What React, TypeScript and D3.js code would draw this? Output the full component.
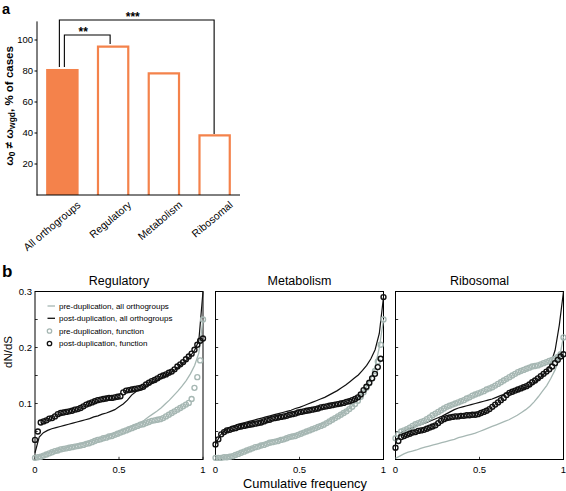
import React from "react";
import * as d3 from "d3";

// ---------- Panel a data ----------
const categories = ["All orthogroups", "Regulatory", "Metabolism", "Ribosomal"];
const pctCases = [81.3, 95.7, 78.5, 38.5];
const pctTicks = [20, 40, 60, 80, 100];
const sigLabels = [
  { from: 0, to: 1, label: "**", level: 103.2 },
  { from: 0, to: 3, label: "***", level: 112.9 },
];

// ---------- Panel b data (sorted dN/dS values; cumulative frequency from rank) ----------
const panelTitles = ["Regulatory", "Metabolism", "Ribosomal"];
const dndsTicks = [0.05, 0.1, 0.15, 0.2, 0.25, 0.3];
const dndsLabelTicks = [0.1, 0.2, 0.3];
const freqTicks = [0, 0.5, 1];
const freqTickLabels = ["0", "0.5", "1"];
const legendLabels = [
  "pre-duplication, all orthogroups",
  "post-duplication, all orthogroups",
  "pre-duplication, function",
  "post-duplication, function",
];

const regPreAll = [0.003,0.006,0.009,0.012,0.014,0.016,0.018,0.02,0.022,0.024,
  0.026,0.028,0.03,0.032,0.034,0.036,0.039,0.041,0.044,0.047,
  0.05,0.053,0.056,0.059,0.062,0.066,0.07,0.076,0.081,0.086,
  0.092,0.099,0.106,0.114,0.122,0.131,0.141,0.153,0.168,0.19,
  0.25];
const regPostAll = [0.012,0.04,0.048,0.052,0.055,0.057,0.059,0.061,0.063,0.065,
  0.067,0.069,0.071,0.073,0.076,0.078,0.081,0.083,0.086,0.089,
  0.094,0.099,0.106,0.115,0.121,0.125,0.129,0.133,0.137,0.141,
  0.145,0.149,0.153,0.158,0.164,0.17,0.177,0.185,0.195,0.212,
  0.3];
const regPreFn = [0.003,0.004,0.005,0.007,0.009,0.011,0.013,0.015,0.016,0.018,
  0.019,0.02,0.021,0.022,0.023,0.024,0.025,0.026,0.028,0.029,
  0.031,0.033,0.035,0.036,0.038,0.039,0.041,0.042,0.044,0.046,
  0.048,0.05,0.052,0.054,0.056,0.058,0.06,0.062,0.063,0.065,
  0.067,0.069,0.07,0.071,0.072,0.074,0.077,0.08,0.083,0.086,
  0.089,0.092,0.095,0.098,0.101,0.108,0.128,0.147,0.177,0.25];
const regPostFn = [0.035,0.05,0.066,0.068,0.07,0.073,0.074,0.077,0.081,0.083,
  0.084,0.085,0.086,0.087,0.089,0.09,0.092,0.095,0.098,0.1,
  0.102,0.104,0.106,0.107,0.108,0.109,0.11,0.11,0.111,0.112,
  0.113,0.12,0.123,0.124,0.125,0.126,0.127,0.128,0.13,0.134,
  0.137,0.14,0.142,0.145,0.148,0.15,0.152,0.155,0.157,0.161,
  0.166,0.17,0.174,0.179,0.184,0.189,0.196,0.205,0.212,0.216];

const metPreAll = [0.003,0.003,0.004,0.005,0.007,0.01,0.013,0.016,0.019,0.022,
  0.025,0.027,0.03,0.032,0.034,0.036,0.038,0.04,0.042,0.044,
  0.046,0.049,0.052,0.055,0.058,0.062,0.066,0.07,0.074,0.078,
  0.082,0.087,0.092,0.099,0.107,0.118,0.13,0.145,0.165,0.2,
  0.25];
const metPostAll = [0.027,0.042,0.051,0.056,0.059,0.062,0.064,0.066,0.068,0.07,
  0.072,0.074,0.076,0.078,0.08,0.082,0.084,0.086,0.088,0.091,
  0.093,0.096,0.099,0.102,0.105,0.108,0.111,0.115,0.119,0.123,
  0.128,0.133,0.139,0.145,0.151,0.159,0.168,0.18,0.196,0.225,
  0.29];
const metPreFn = [0.003,0.003,0.003,0.004,0.004,0.005,0.006,0.008,0.01,0.012,
  0.014,0.016,0.018,0.02,0.022,0.023,0.025,0.026,0.028,0.03,
  0.031,0.032,0.033,0.035,0.036,0.038,0.04,0.041,0.042,0.044,
  0.046,0.048,0.05,0.052,0.054,0.056,0.058,0.06,0.062,0.065,
  0.068,0.071,0.074,0.077,0.08,0.083,0.086,0.09,0.094,0.099,
  0.105,0.112,0.12,0.128,0.136,0.145,0.158,0.175,0.205,0.25];
const metPostFn = [0.027,0.036,0.045,0.049,0.052,0.053,0.055,0.056,0.058,0.059,
  0.06,0.061,0.062,0.063,0.064,0.065,0.066,0.068,0.07,0.071,
  0.073,0.074,0.075,0.076,0.077,0.078,0.08,0.081,0.082,0.084,
  0.085,0.086,0.087,0.088,0.089,0.09,0.091,0.093,0.094,0.095,
  0.096,0.097,0.098,0.099,0.1,0.101,0.103,0.104,0.106,0.108,
  0.111,0.116,0.124,0.13,0.137,0.145,0.153,0.165,0.18,0.29];

const riboPreAll = [0.002,0.006,0.01,0.013,0.015,0.017,0.02,0.022,0.024,0.026,
  0.028,0.03,0.032,0.034,0.036,0.039,0.041,0.043,0.045,0.047,
  0.05,0.053,0.056,0.059,0.062,0.065,0.068,0.071,0.075,0.079,
  0.084,0.089,0.095,0.103,0.112,0.122,0.132,0.145,0.16,0.18,
  0.22];
const riboPostAll = [0.03,0.046,0.051,0.054,0.057,0.06,0.062,0.065,0.068,0.071,
  0.074,0.077,0.081,0.085,0.089,0.092,0.094,0.096,0.098,0.1,
  0.102,0.104,0.106,0.108,0.111,0.114,0.117,0.12,0.122,0.125,
  0.127,0.129,0.131,0.136,0.142,0.15,0.158,0.172,0.195,0.24,
  0.3];
const riboPreFn = [0.038,0.045,0.05,0.052,0.054,0.057,0.06,0.063,0.065,0.067,
  0.069,0.072,0.075,0.079,0.082,0.085,0.088,0.091,0.094,0.096,
  0.098,0.1,0.102,0.104,0.106,0.109,0.111,0.114,0.116,0.118,
  0.12,0.122,0.125,0.127,0.129,0.132,0.135,0.138,0.141,0.144,
  0.147,0.15,0.153,0.156,0.158,0.16,0.162,0.164,0.166,0.167,
  0.168,0.17,0.172,0.174,0.176,0.178,0.18,0.183,0.188,0.218];
const riboPostFn = [0.021,0.033,0.04,0.042,0.044,0.046,0.048,0.049,0.051,0.052,
  0.053,0.055,0.057,0.059,0.061,0.065,0.069,0.072,0.074,0.075,
  0.076,0.077,0.077,0.078,0.078,0.079,0.079,0.08,0.08,0.081,
  0.083,0.085,0.087,0.09,0.094,0.098,0.102,0.106,0.11,0.115,
  0.119,0.121,0.123,0.125,0.127,0.129,0.131,0.134,0.138,0.141,
  0.145,0.149,0.153,0.157,0.161,0.166,0.172,0.178,0.184,0.188];

const panelData = [
  { preAll: regPreAll, postAll: regPostAll, preFn: regPreFn, postFn: regPostFn },
  { preAll: metPreAll, postAll: metPostAll, preFn: metPreFn, postFn: metPostFn },
  { preAll: riboPreAll, postAll: riboPostAll, preFn: riboPreFn, postFn: riboPostFn },
];

// ---------- styles ----------
const FONT = "'Liberation Sans', Arial, Helvetica, sans-serif";
const ORANGE = "#F4824B";
const GREY = "#a6b7b3";
const BLACK = "#111";

const W = 566;
const H = 491;

function PanelA() {
  const x = d3.scaleBand<string>().domain(categories).range([37, 240]).paddingInner(0.36).paddingOuter(0.18);
  const y = d3.scaleLinear().domain([0, 112]).range([195, 21.4]);
  const cx = (i: number) => (x(categories[i]) as number) + x.bandwidth() / 2;
  return (
    <g>
      <text x={2} y={13.5} fontFamily={FONT} fontWeight="bold" fontSize={14.5}>a</text>
      {categories.map((c, i) => {
        const x0 = x(c) as number;
        if (i === 0) {
          return (
            <rect key={c} x={x0} y={y(pctCases[i])} width={x.bandwidth()}
              height={y(0) - y(pctCases[i])} fill={ORANGE} />
          );
        }
        const xl = x0 + 1.1;
        const xr = x0 + x.bandwidth() - 1.1;
        return (
          <g key={c}>
            <rect x={xl} y={y(pctCases[i])} width={xr - xl} height={y(0) - y(pctCases[i])} fill="#fff" />
            <path d={`M${xl},${y(0)}V${y(pctCases[i])}H${xr}V${y(0)}`} fill="none"
              stroke={ORANGE} strokeWidth={2.2} />
          </g>
        );
      })}
      {/* axes */}
      <line x1={37} x2={37} y1={y(112)} y2={y(0) + 0.5} stroke="#000" strokeWidth={1} />
      <line x1={36.5} x2={240} y1={y(0)} y2={y(0)} stroke="#000" strokeWidth={1} />
      {pctTicks.map(t => (
        <g key={t}>
          <line x1={34.5} x2={37} y1={y(t)} y2={y(t)} stroke="#000" strokeWidth={1} />
          <text x={33} y={y(t) + 3.3} textAnchor="end" fontFamily={FONT} fontSize={9.5}>{t}</text>
        </g>
      ))}
      <text transform={`translate(13,106) rotate(-90)`} textAnchor="middle" fontFamily={FONT} fontWeight="bold" fontSize={11.5}>
        ω<tspan fontSize={8.5} dy={2}>0</tspan><tspan dy={-2}> ≠ ω</tspan><tspan fontSize={8.5} dy={2}>wgd</tspan><tspan dy={-2}>, % of cases</tspan>
      </text>
      {categories.map((c, i) => (
        <text key={c} transform={`translate(${cx(i) + 19},${206}) rotate(-40)`} textAnchor="end" fontFamily={FONT} fontSize={10.5}>{c}</text>
      ))}
      {/* significance brackets */}
      {sigLabels.map((s, k) => {
        const xl = cx(s.from) + (k === 0 ? 2 : -3);
        const xr = cx(s.to) + (k === 0 ? -3 : -0.5);
        const ly = y(s.level);
        const yl = y(pctCases[s.from]) - 2;
        const yr = y(pctCases[s.to]) - (k === 0 ? 2.7 : 1.3);
        return (
          <g key={s.label}>
            <path d={`M${xl},${yl}V${ly}H${xr}V${yr}`} fill="none" stroke="#000" strokeWidth={1.1} />
            <text x={(xl + xr) / 2 - 4} y={ly + 1} textAnchor="middle" fontFamily={FONT} fontWeight="bold" fontSize={12}>{s.label}</text>
          </g>
        );
      })}
    </g>
  );
}

function PanelB() {
  const lefts = [35, 215.5, 395.5];
  const pw = 168;
  const y = d3.scaleLinear().domain([0, 0.3]).range([459.5, 291.5]);
  return (
    <g>
      <text x={2} y={277} fontFamily={FONT} fontWeight="bold" fontSize={17}>b</text>
      <text transform={`translate(12,352) rotate(-90)`} textAnchor="middle" fontFamily={FONT} fontSize={11.5}>dN/dS</text>
      <text x={305} y={488} textAnchor="middle" fontFamily={FONT} fontSize={12.8}>Cumulative frequency</text>
      {panelData.map((pd, p) => {
        const x = d3.scaleLinear().domain([0, 1]).range([lefts[p], lefts[p] + pw]);
        const lineGen = (arr: number[]) =>
          d3.line<number>().x((_, i) => x(i / (arr.length - 1))).y(v => y(v))(arr) as string;
        const pts = (arr: number[]) => arr.map((v, i) => ({ fx: x(i / (arr.length - 1)), fy: y(v) }));
        return (
          <g key={p}>
            <text x={x(0.5)} y={285} textAnchor="middle" fontFamily={FONT} fontSize={12.5}>{panelTitles[p]}</text>
            <rect x={x(0)} y={y(0.3)} width={pw} height={y(0) - y(0.3)} fill="none" stroke="#000" strokeWidth={1} />
            {dndsTicks.map(t => (
              <line key={t} x1={x(0)} x2={x(0) + 2.7} y1={y(t)} y2={y(t)} stroke="#000" strokeWidth={0.8} />
            ))}
            {freqTicks.map((t, i) => (
              <g key={t}>
                <line x1={x(t)} x2={x(t)} y1={y(0)} y2={y(0) - 2.7} stroke="#000" strokeWidth={0.8} />
                <text x={x(t)} y={473} textAnchor="middle" fontFamily={FONT} fontSize={9.5}>{freqTickLabels[i]}</text>
              </g>
            ))}
            {p === 0 && dndsLabelTicks.map(t => (
              <text key={t} x={32} y={y(t) + 3.4} textAnchor="end" fontFamily={FONT} fontSize={9.5}>{t}</text>
            ))}
            <path d={lineGen(pd.preAll)} fill="none" stroke={GREY} strokeWidth={1.3} />
            <path d={lineGen(pd.postAll)} fill="none" stroke={BLACK} strokeWidth={1.2} />
            {pts(pd.preFn).map((q, i) => (
              <circle key={"g" + i} cx={q.fx} cy={q.fy} r={2.5} fill="none" stroke={GREY} strokeWidth={1.35} />
            ))}
            {pts(pd.postFn).map((q, i) => (
              <circle key={"b" + i} cx={q.fx} cy={q.fy} r={2.5} fill="none" stroke={BLACK} strokeWidth={1.35} />
            ))}
          </g>
        );
      })}
      {/* legend in first panel */}
      <g fontFamily={FONT} fontSize={8}>
        <line x1={47.5} x2={55} y1={306} y2={306} stroke={GREY} strokeWidth={1.3} />
        <line x1={47.5} x2={55} y1={318.3} y2={318.3} stroke={BLACK} strokeWidth={1.3} />
        <circle cx={49.5} cy={331} r={2.2} fill="none" stroke={GREY} strokeWidth={1.3} />
        <circle cx={49.5} cy={343.5} r={2.2} fill="none" stroke={BLACK} strokeWidth={1.3} />
        {legendLabels.map((l, i) => (
          <text key={l} x={59} y={309 + i * 12.3}>{l}</text>
        ))}
      </g>
    </g>
  );
}

export default function App() {
  return (
    <svg width={W} height={H} viewBox={`0 0 ${W} ${H}`}
      style={{ position: "absolute", left: 0, top: 0, background: "#fff" }}>
      <rect x={0} y={0} width={W} height={H} fill="#fff" />
      <PanelA />
      <PanelB />
    </svg>
  );
}
